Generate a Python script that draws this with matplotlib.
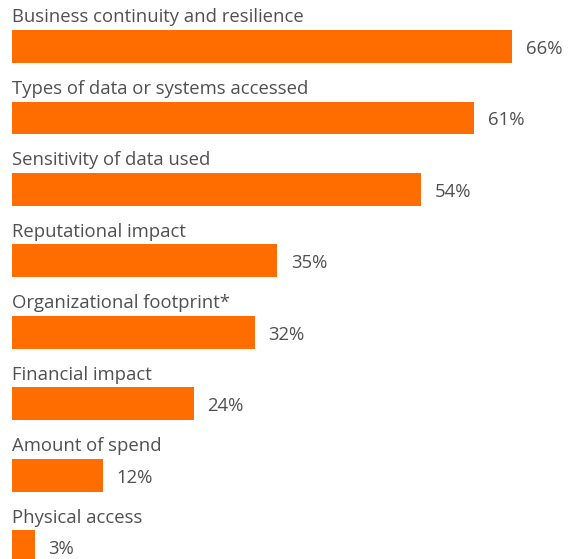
import matplotlib.pyplot as plt

categories = [
    "Business continuity and resilience",
    "Types of data or systems accessed",
    "Sensitivity of data used",
    "Reputational impact",
    "Organizational footprint*",
    "Financial impact",
    "Amount of spend",
    "Physical access",
]
values = [66, 61, 54, 35, 32, 24, 12, 3]

bar_color = "#ff6d00"
text_color = "#505050"

fig = plt.figure(figsize=(5.68, 5.59), dpi=100)
ax = fig.add_axes([0, 0, 1, 1])

rows = list(range(len(categories)))
ax.barh(rows, values, height=0.46, color=bar_color, left=0)

for i, (cat, v) in enumerate(zip(categories, values)):
    # category name sits just above its bar, percentage to the right
    ax.text(0, i - 0.41, cat, ha="left", va="center", fontsize=13.3,
            color=text_color, family="Open Sans")
    ax.text(v + 1.8, i + 0.03, f"{v}%", ha="left", va="center", fontsize=13.3,
            color=text_color, family="Open Sans")

ax.set_xlim(-1.58, 73.35)
ax.set_ylim(7.17, -0.65)
ax.axis("off")

fig.savefig("out.png", dpi=100)
